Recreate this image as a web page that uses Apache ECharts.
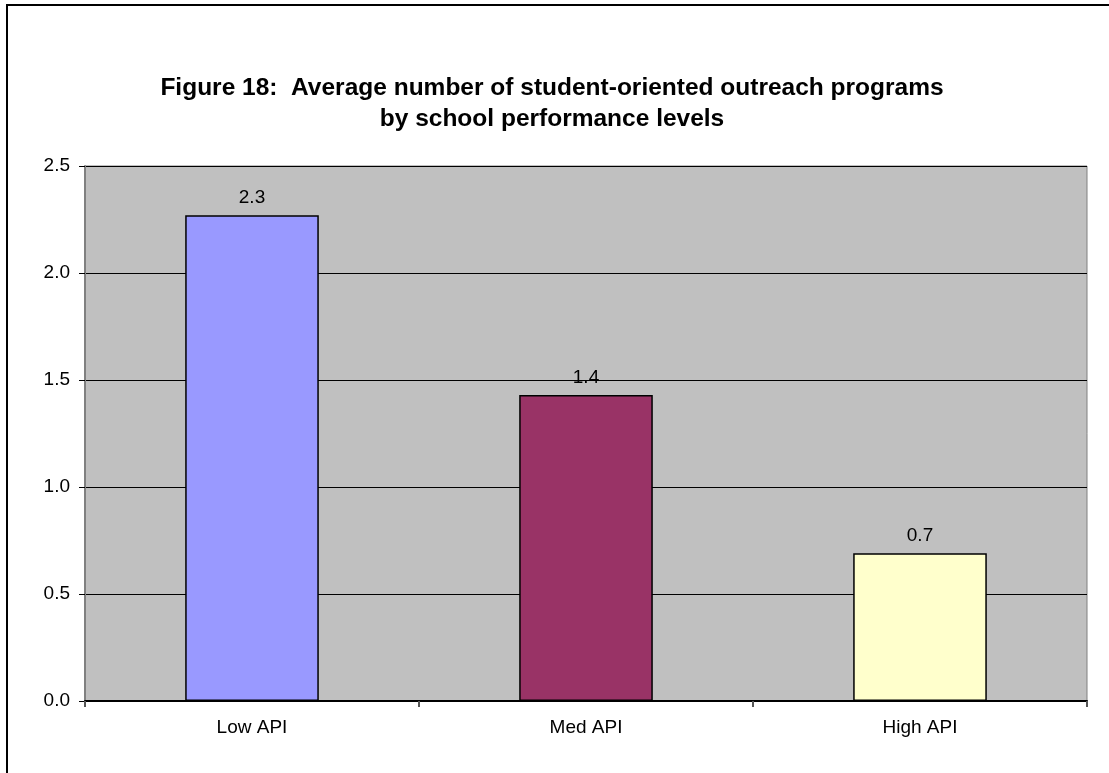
<!DOCTYPE html>
<html>
<head>
<meta charset="utf-8">
<script src="https://cdn.jsdelivr.net/npm/echarts@6/dist/echarts.min.js"></script>
<style>
  html, body { margin: 0; padding: 0; background: #ffffff; }
  #chart { width: 1109px; height: 773px; }
</style>
</head>
<body>
<div id="chart"></div>
<script>
// Performance groups and the average number of student-oriented outreach programs
const categories = ['Low API', 'Med API', 'High API'];
const averages = [2.27, 1.43, 0.69];
const barColors = ['#9999FF', '#993366', '#FFFFCC'];
const yTicks = { min: 0, max: 2.5, step: 0.5 };
const titleLines = [
  'Figure 18:  Average number of student-oriented outreach programs',
  'by school performance levels'
];

const FONT = '"Liberation Sans", Arial, sans-serif';

const chart = echarts.init(document.getElementById('chart'), null, { renderer: 'canvas' });

// Each title line is centred on its own
const titleGraphics = titleLines.map((line, i) => ({
  type: 'text',
  silent: true,
  x: 552,
  y: 88 + i * 31,
  style: {
    text: line,
    align: 'center',
    verticalAlign: 'middle',
    fontFamily: FONT,
    fontSize: 24.5,
    fontWeight: 'bold',
    fill: '#000000'
  }
}));

chart.setOption({
  backgroundColor: '#ffffff',
  animation: false,
  graphic: titleGraphics.concat([
    {
      type: 'rect',
      silent: true,
      z: 100,
      shape: { x: 7, y: 5, width: 1300, height: 1000 },
      style: { fill: 'none', stroke: '#000000', lineWidth: 2 }
    }
  ]),
  grid: {
    left: 85,
    right: 22,
    top: 166,
    bottom: 72,
    show: true,
    backgroundColor: '#C0C0C0',
    borderColor: '#808080',
    borderWidth: 1
  },
  xAxis: {
    type: 'category',
    data: categories,
    axisLine: { show: true, lineStyle: { color: '#000000', width: 2 } },
    axisTick: { show: true, length: 6, alignWithLabel: false, lineStyle: { color: '#555555', width: 2 } },
    axisLabel: { fontFamily: FONT, fontSize: 19, color: '#000000', margin: 17 },
    splitLine: { show: false }
  },
  yAxis: {
    type: 'value',
    min: yTicks.min,
    max: yTicks.max,
    interval: yTicks.step,
    axisLine: { show: true, lineStyle: { color: '#808080', width: 2 } },
    axisTick: { show: true, length: 6, lineStyle: { color: '#000000', width: 1 } },
    axisLabel: {
      fontFamily: FONT,
      fontSize: 19,
      color: '#000000',
      margin: 15,
      formatter: v => v.toFixed(1)
    },
    splitLine: { show: true, lineStyle: { color: '#000000', width: 1 } }
  },
  series: [
    {
      type: 'bar',
      barWidth: '40%',
      data: averages.map((v, i) => ({
        value: v,
        itemStyle: { color: barColors[i] }
      })),
      itemStyle: { borderColor: '#000000', borderWidth: 1.5 },
      label: {
        show: true,
        position: 'top',
        distance: 8,
        fontFamily: FONT,
        fontSize: 19,
        color: '#000000',
        formatter: p => p.value.toFixed(1)
      }
    }
  ]
});
</script>
</body>
</html>
